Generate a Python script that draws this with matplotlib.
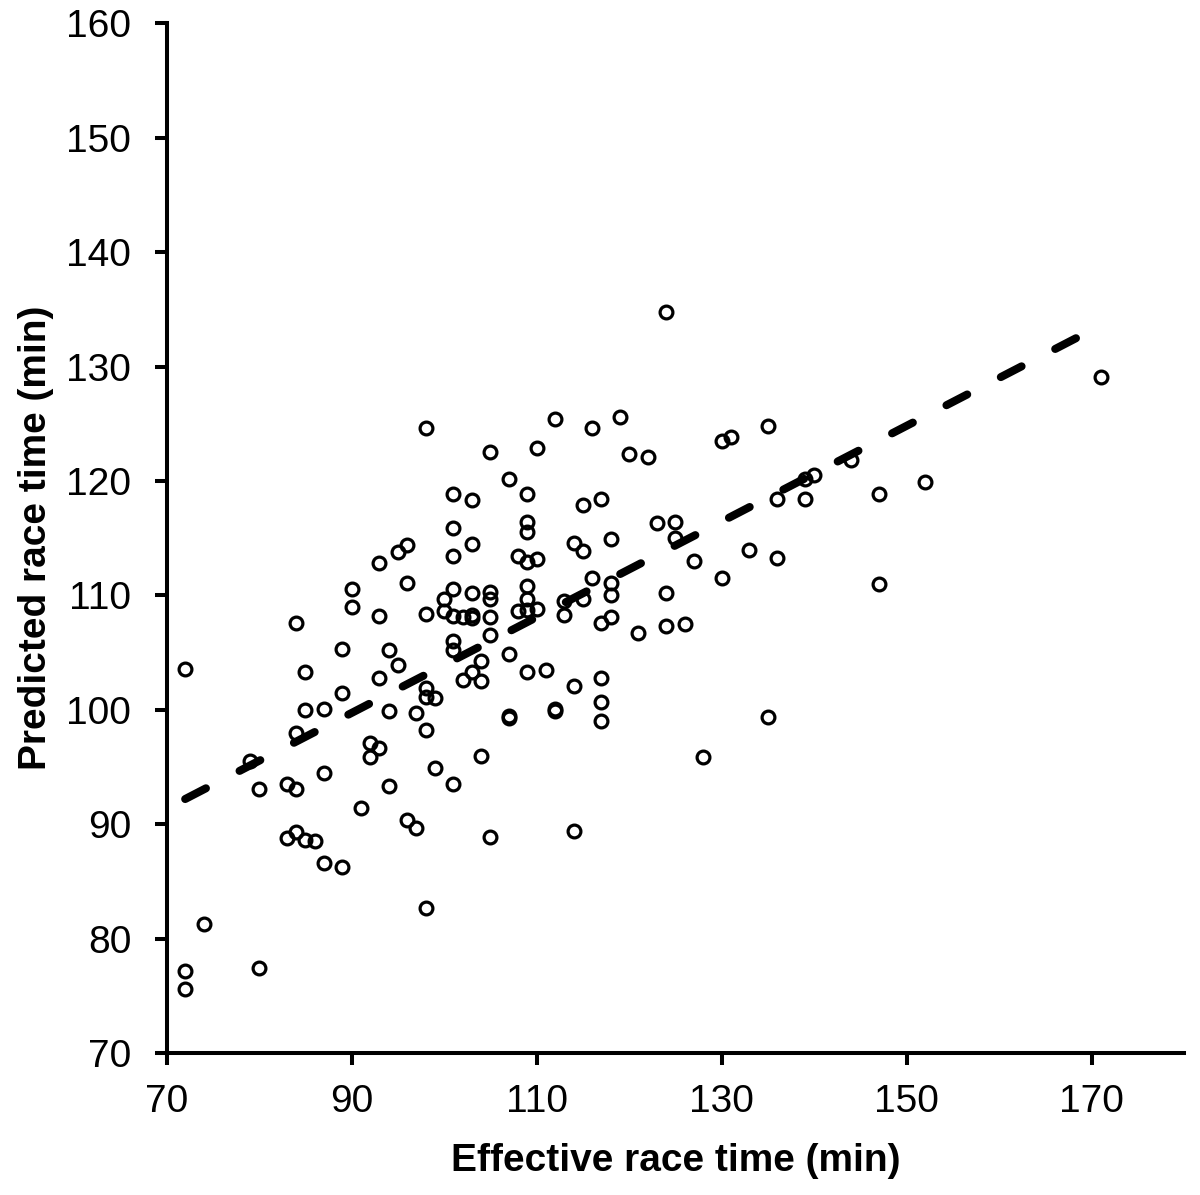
import matplotlib
matplotlib.use('Agg')
import matplotlib.pyplot as plt

plt.rcParams['font.family'] = ['Liberation Sans', 'DejaVu Sans']

# effective race time (min) and predicted race time (min) per athlete
effective = [72, 72, 72, 74, 79, 80, 80, 83, 83, 84, 84, 84, 84, 85, 85, 85, 86, 87, 87, 87,
             89, 89, 89, 90, 90, 91, 92, 92, 93, 93, 93, 93, 94, 94, 94, 95, 95, 96, 96, 96,
             97, 97, 98, 98, 98, 98, 98, 98, 99, 99, 100, 100, 101, 101, 101, 101, 101, 101, 101, 101,
             102, 102, 103, 103, 103, 103, 103, 103, 104, 104, 104, 105, 105, 105, 105, 105, 105, 107, 107, 107,
             107, 108, 108, 109, 109, 109, 109, 109, 109, 109, 109, 110, 110, 110, 111, 112, 112, 112, 113, 113,
             114, 114, 114, 115, 115, 115, 116, 116, 117, 117, 117, 117, 117, 118, 118, 118, 118, 119, 120, 121,
             122, 123, 124, 124, 124, 125, 125, 126, 127, 128, 130, 130, 131, 133, 135, 135, 136, 136, 139, 139,
             140, 144, 147, 147, 152, 171]
predicted = [103.6, 77.2, 75.6, 81.3, 95.5, 93.1, 77.4, 93.5, 88.8, 107.6, 98.0, 93.1, 89.3, 103.3, 100.0, 88.6, 88.5, 100.1, 94.5, 86.6,
             105.3, 101.5, 86.3, 110.6, 109.0, 91.4, 97.1, 95.9, 112.8, 108.2, 102.8, 96.7, 105.2, 99.9, 93.3, 113.8, 103.9, 114.4, 111.1, 90.4,
             99.7, 89.7, 124.6, 108.4, 101.9, 101.1, 98.2, 82.7, 101.0, 94.9, 109.7, 108.6, 118.9, 115.9, 113.4, 110.6, 108.2, 106.0, 105.2, 93.5,
             108.1, 102.6, 118.3, 114.5, 110.2, 108.3, 108.0, 103.3, 104.3, 102.5, 96.0, 122.5, 110.3, 109.7, 108.1, 106.5, 88.9, 120.2, 104.9, 99.5,
             99.3, 113.4, 108.6, 118.9, 116.4, 115.5, 112.9, 110.8, 109.7, 108.7, 103.3, 122.9, 113.2, 108.8, 103.5, 125.4, 100.1, 99.9, 109.5, 108.3,
             114.6, 102.1, 89.4, 117.9, 113.9, 109.7, 124.6, 111.5, 118.4, 107.6, 102.8, 100.7, 99.0, 114.9, 111.1, 110.0, 108.1, 125.6, 122.4, 106.7,
             122.1, 116.3, 134.8, 110.2, 107.3, 116.4, 115.0, 107.5, 113.0, 95.9, 123.5, 111.5, 123.8, 114.0, 124.8, 99.4, 118.4, 113.3, 120.2, 118.4,
             120.5, 121.8, 118.9, 111.0, 119.9, 129.1]

# regression line end points
fit_x = [72, 168.6]
fit_y = [92.2, 132.6]

x_ticks = [70, 90, 110, 130, 150, 170]
y_ticks = [70, 80, 90, 100, 110, 120, 130, 140, 150, 160]

fig = plt.figure(figsize=(12, 11.95), dpi=100)
ax = fig.add_axes([0.1389, 0.1188, 0.8479, 0.8617])

ax.plot(effective, predicted, linestyle='none', marker='o', ms=9.2, mew=2.3,
        mfc='none', mec='black', zorder=2)
ax.plot(fit_x, fit_y, color='black', lw=5.8, dashes=(2.9, 4.7),
        dash_capstyle='round', zorder=3)

ax.set_xlim(70, 180)
ax.set_ylim(70, 160)
ax.set_xticks(x_ticks)
ax.set_yticks(y_ticks)

for side in ['top', 'right']:
    ax.spines[side].set_visible(False)
for side in ['left', 'bottom']:
    ax.spines[side].set_linewidth(2.9)

ax.tick_params(axis='both', direction='out', length=8.5, width=2.9, labelsize=28)
ax.tick_params(axis='x', pad=14)
ax.tick_params(axis='y', pad=17)

ax.set_xlabel('Effective race time (min)', fontsize=28, fontweight='bold', labelpad=16)
ax.set_ylabel('Predicted race time (min)', fontsize=28, fontweight='bold', labelpad=9)

fig.savefig('out.png', dpi=100)
